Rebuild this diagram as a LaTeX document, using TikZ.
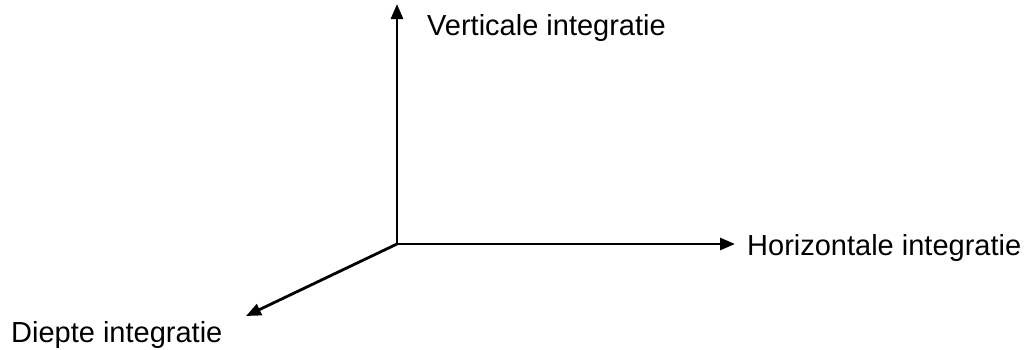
\documentclass[tikz,border=0pt]{standalone}
\usepackage{fontspec}
\setmainfont{Liberation Sans}
\usetikzlibrary{arrows.meta, positioning}

\begin{document}
\begin{tikzpicture}[
        x=1pt, y=-1pt,
        axis/.style={-{Triangle[length=15pt, width=12pt]}, line width=2.8pt},
        lbl/.style={inner sep=0pt, anchor=base west, font=\fontsize{29}{33}\selectfont}
    ]
        \useasboundingbox (0,0) rectangle (1030,349);
        \coordinate (orig) at (397,244);
        \coordinate (vert) at (397,4);
        \coordinate (hor) at (735,244);
        \coordinate (diep) at (246,316);

        \draw[axis] (orig) -- (vert);
        \draw[axis] (orig) -- (hor);
        \draw[axis] (orig) -- (diep);

        \node[lbl] (vlab) at (427,35) {Verticale integratie};
        \node[lbl] (hlab) at (747,255) {Horizontale integratie};
        \node[lbl] (dlab) at (11,342) {Diepte integratie};
    \end{tikzpicture}
\end{document}
